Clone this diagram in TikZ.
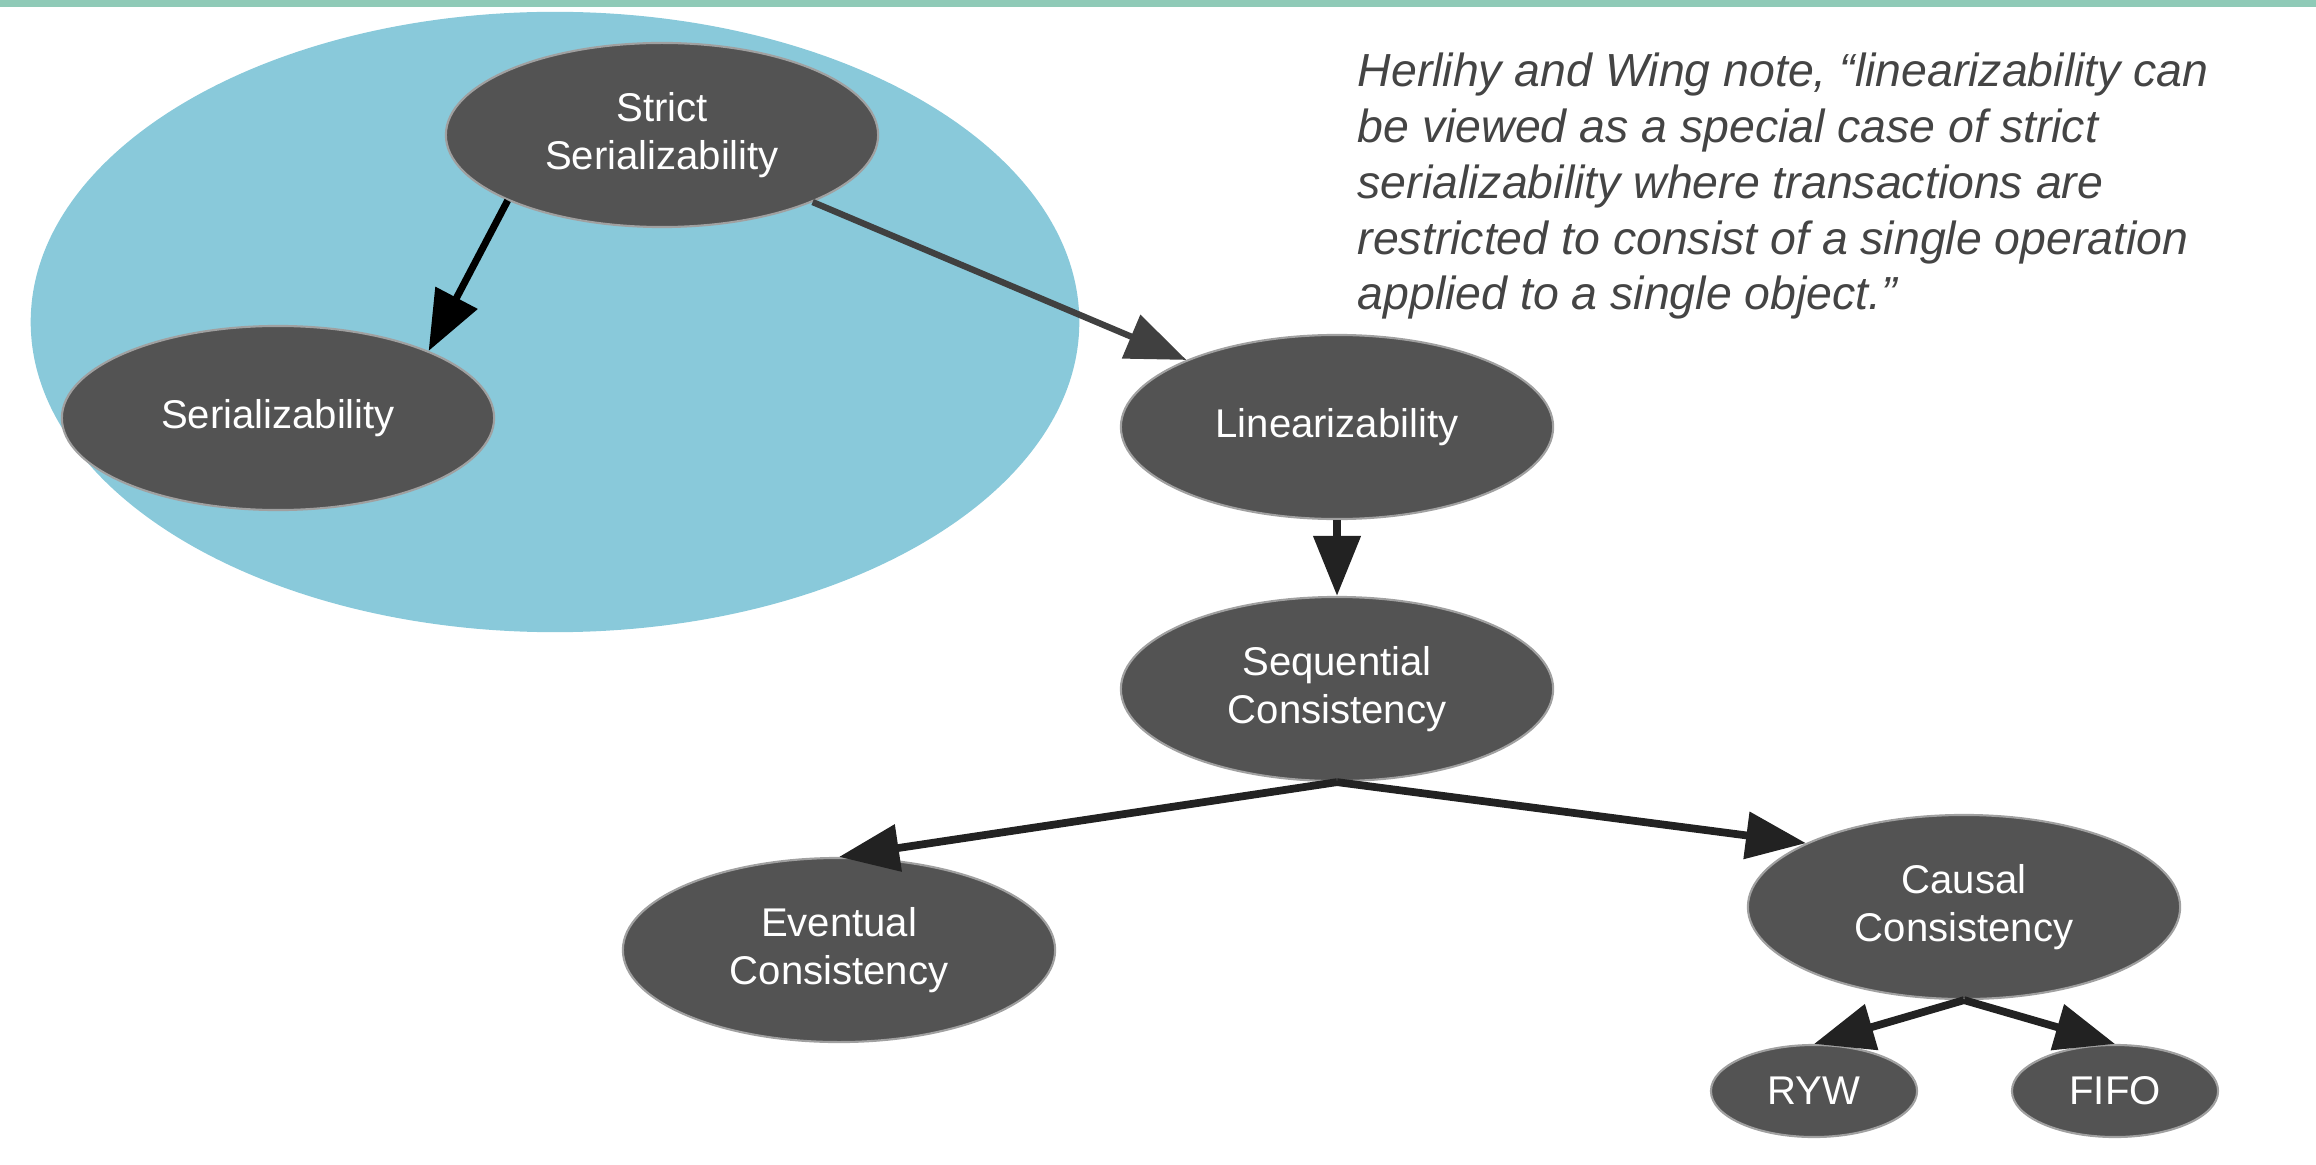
\documentclass[tikz,border=0pt]{standalone}
\usepackage{fontspec}
\setmainfont{Liberation Sans}
\usetikzlibrary{arrows.meta,shapes.geometric}
\definecolor{barcol}{HTML}{8FCAB7}
\definecolor{blobcol}{HTML}{89C9DA}
\definecolor{nodefill}{HTML}{535353}
\definecolor{nodeline}{HTML}{A0A0A0}
\definecolor{quotecol}{HTML}{444444}
\definecolor{edgecol}{HTML}{222222}
\definecolor{greyedge}{HTML}{404040}

\begin{document}
\begin{tikzpicture}[x=0.01cm,y=-0.01cm,
  level/.style={ellipse,fill=nodefill,draw=nodeline,line width=0.6pt,text=white,inner sep=0pt,
    minimum width=4.32cm,minimum height=1.84cm,align=center,font=\fontsize{11.4}{13.6}\selectfont},
  leaf/.style={level,minimum width=2.06cm,minimum height=0.92cm},
  edge/.style={draw=edgecol,line width=2.2pt,-{Triangle[length=0.6cm,width=0.46cm]}}]
\useasboundingbox (0,0) rectangle (2316,1164);
\fill [barcol] (0,0) rectangle (2316,7);
\fill [blobcol] (555,322) ellipse (5.24cm and 3.1cm);
\node [level] (strict) at (662,135) {Strict\\Serializability};
\node [level] (serial) at (278,418) {Serializability};
\node [level] (lin) at (1337,427) {Linearizability};
\node [level] (seq) at (1337,689) {Sequential\\Consistency};
\node [level] (ev) at (839,950) {Eventual\\Consistency};
\node [level] (caus) at (1964,907) {Causal\\Consistency};
\node [leaf] (ryw) at (1814,1091) {RYW};
\node [leaf] (fifo) at (2115,1091) {FIFO};
\node [anchor=north west,inner sep=0pt,align=left,text=quotecol,
  font=\fontsize{13.2}{15.9}\selectfont\itshape] (quote) at (1357,52)
  {Herlihy and Wing note, “linearizability can\\
   be viewed as a special case of strict\\
   serializability where transactions are\\
   restricted to consist of a single operation\\
   applied to a single object.”};
\draw [edge,draw=black,line width=2pt] (strict.203) -- (serial.24);
\draw [edge,draw=greyedge,line width=1.8pt] (strict.336) -- (lin.156);
\draw [edge] (lin.south) -- (seq.north);
\draw [edge] (seq.south) -- (ev.north);
\draw [edge] (seq.south) -- (caus.158);
\draw [edge] (caus.south) -- (ryw.north);
\draw [edge] (caus.south) -- (fifo.north);
\end{tikzpicture}
\end{document}
